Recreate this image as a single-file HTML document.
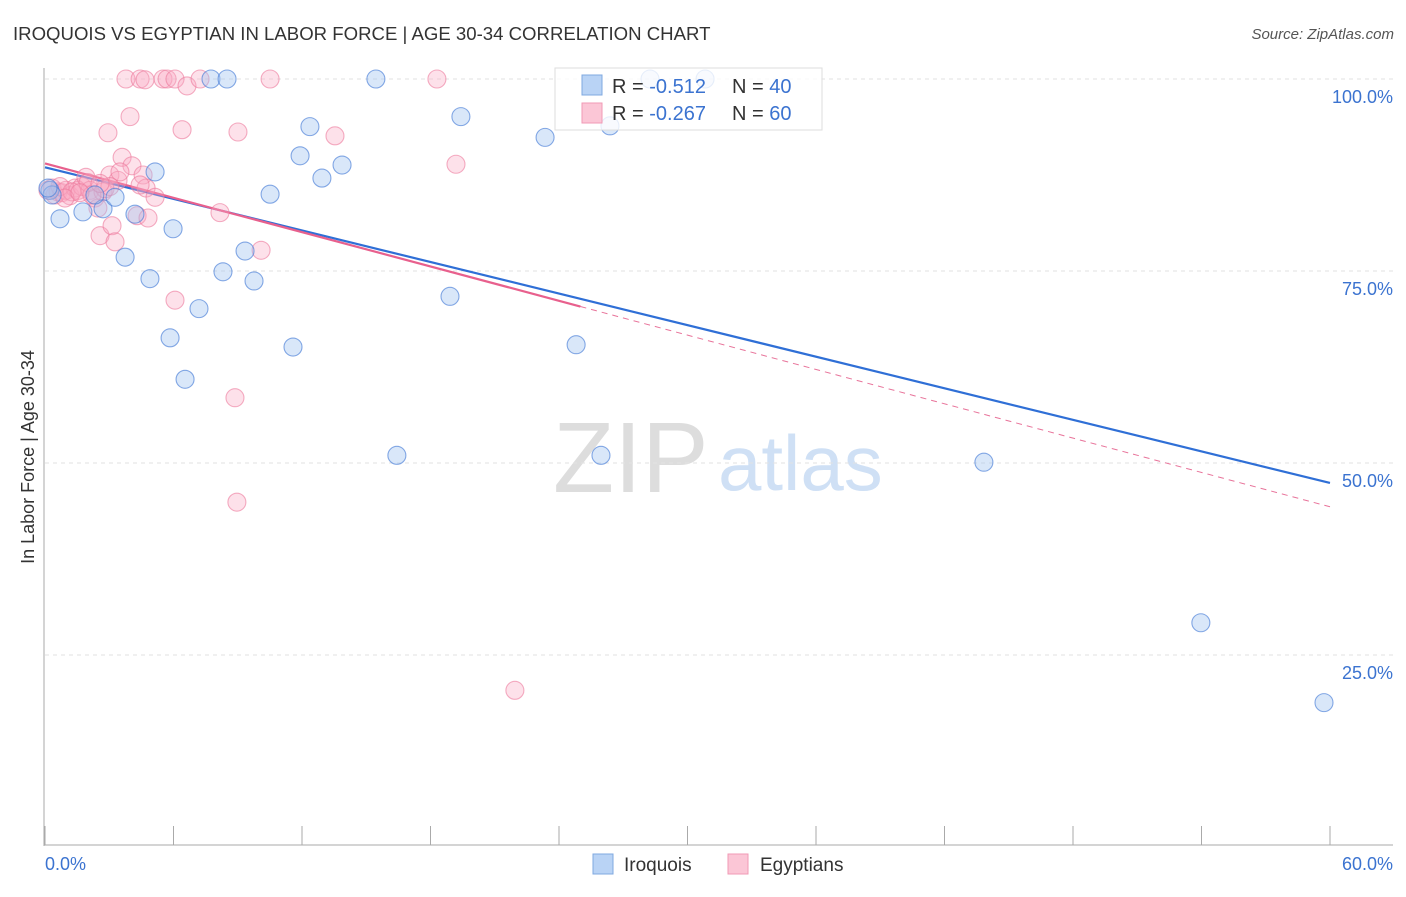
<!DOCTYPE html>
<html><head><meta charset="utf-8"><style>
body{margin:0;background:#fff;font-family:"Liberation Sans",sans-serif}
svg text{font-family:"Liberation Sans",sans-serif}
</style></head><body>
<svg id="chart" width="1406" height="892" xmlns="http://www.w3.org/2000/svg">
<text x="13" y="40" font-size="18.6" fill="#333">IROQUOIS VS EGYPTIAN IN LABOR FORCE | AGE 30-34 CORRELATION CHART</text>
<text x="1394" y="39" font-size="15" fill="#555" font-style="italic" text-anchor="end">Source: ZipAtlas.com</text>
<g>
<text x="553" y="492" font-size="100" fill="#ddd" font-family="Liberation Serif,serif">ZIP</text>
<text x="718" y="490" font-size="78" fill="#cfe0f5">atlas</text>
</g>
<g id="grid"></g><g id="axes"></g><g id="trend"></g><g id="pts"></g>
<text transform="translate(34,457) rotate(-90)" font-size="18" fill="#333" text-anchor="middle">In Labor Force | Age 30-34</text>
<g>
<rect x="555" y="68" width="267" height="62" fill="rgba(255,255,255,0.8)" stroke="#ddd"/>
<rect x="582" y="75" width="20" height="20" fill="#b9d3f5" stroke="#7fa8e0"/>
<rect x="582" y="103" width="20" height="20" fill="#fbc6d6" stroke="#f09ab5"/>
<text x="612" y="93" font-size="20" fill="#333">R = <tspan fill="#3b73d0">-0.512</tspan><tspan x="732">N = </tspan><tspan fill="#3b73d0">40</tspan></text>
<text x="612" y="120" font-size="20" fill="#333">R = <tspan fill="#3b73d0">-0.267</tspan><tspan x="732">N = </tspan><tspan fill="#3b73d0">60</tspan></text>
</g>
<g>
<rect x="593" y="854" width="20" height="20" fill="#b9d3f5" stroke="#7fa8e0"/>
<text x="624" y="871" font-size="19" fill="#333">Iroquois</text>
<rect x="728" y="854" width="20" height="20" fill="#fbc6d6" stroke="#f09ab5"/>
<text x="760" y="871" font-size="19" fill="#333">Egyptians</text>
</g>
</svg>
<script>
const yTicks=[100,75,50,25];
const yTickLabels=["100.0%","75.0%","50.0%","25.0%"];
const xTicks=[0,6,12,18,24,30,36,42,48,54,60];
const iroquoisX=[0.23,0.70,1.77,2.71,3.27,3.74,4.20,4.90,5.14,5.98,6.54,5.84,7.19,7.75,8.50,8.31,9.34,9.76,10.51,11.58,11.91,12.37,12.93,13.87,15.45,16.43,18.91,19.42,23.35,24.80,25.96,26.38,28.25,30.82,43.84,53.97,59.72,0.33,2.33,0.14];
const iroquoisY=[85.5,81.8,82.7,83.1,84.6,76.8,82.4,74.0,87.9,80.5,60.9,66.3,70.1,100,100,74.9,77.6,73.7,85.0,65.1,90.0,93.8,87.1,88.8,100,51.0,71.7,95.1,92.4,65.4,51.0,93.9,100,100,50.1,29.2,18.8,84.9,84.9,85.8];
const egyptX=[0.14,0.33,0.47,0.61,0.79,0.98,1.17,1.40,1.54,1.73,1.91,2.10,2.33,2.47,2.57,2.71,2.94,3.03,3.13,3.27,3.41,3.60,3.78,3.97,4.06,4.30,4.44,4.58,4.72,4.81,5.14,5.51,5.70,6.07,6.07,6.40,6.63,7.24,8.17,8.87,8.96,9.01,10.09,10.51,13.54,18.30,19.19,21.94,2.80,3.50,2.01,0.70,1.26,2.19,0.93,1.63,3.03,4.44,4.67,2.57];
const egyptY=[85.5,85.8,84.9,85.3,85.2,85.5,84.8,85.8,85.5,86.0,87.2,85.5,84.5,83.2,79.6,85.3,93.0,87.5,80.9,78.8,86.8,89.8,100,95.1,88.7,82.2,100,87.5,85.8,81.9,84.6,100,100,100,71.2,93.4,99.1,100,82.6,58.5,44.9,93.1,77.7,100,92.6,100,88.9,20.4,85.7,87.9,86.5,86.0,85.3,84.9,84.5,85.2,86.0,86.2,99.9,86.4];
const iroqTrend=[88.5,47.4];
const egyTrend=[89.0,44.3];
const egySolidEnd=25;
const NS="http://www.w3.org/2000/svg";
const X=v=>45+v/60*1285, Y=v=>847-v*7.68;
function mk(t,a,p){const e=document.createElementNS(NS,t);for(const k in a)e.setAttribute(k,a[k]);p.appendChild(e);return e;}
const grid=document.getElementById('grid'),axes=document.getElementById('axes'),tr=document.getElementById('trend'),pts=document.getElementById('pts');
yTicks.forEach((t,i)=>{
 const l=mk('line',{x1:45,x2:1393,y1:Y(t),y2:Y(t),stroke:'#e2e2e2','stroke-dasharray':'4 4'},grid);
 
 
 const tx=mk('text',{x:1393,y:Y(t)+24,'font-size':18,fill:'#3b73d0','text-anchor':'end'},axes);
 tx.textContent=yTickLabels[i];
 
 
});
const ya=mk('line',{x1:44,x2:44,y1:68,y2:846,stroke:'#aaa'},axes);


const xa=mk('line',{x1:44,x2:1393,y1:845,y2:845,stroke:'#aaa'},axes);


xTicks.forEach(t=>{
 const l=mk('line',{x1:X(t),x2:X(t),y1:826,y2:845,stroke:'#aaa'},axes);
 
 
});
const x0=mk('text',{x:45,y:870,'font-size':18,fill:'#3b73d0'},axes);x0.textContent=xTicks[0].toFixed(1)+'%';


const x1=mk('text',{x:1393,y:870,'font-size':18,fill:'#3b73d0','text-anchor':'end'},axes);x1.textContent=xTicks[xTicks.length-1].toFixed(1)+'%';


function pt(xs,ys,fill,stroke,name){xs.forEach((x,i)=>{
 const c=mk('circle',{cx:X(x),cy:Y(ys[i]),r:9,fill:fill,stroke:stroke,'stroke-width':1.1},pts);
 
 
});}
pt(egyptX,egyptY,'rgba(248,170,195,0.35)','rgba(236,120,155,0.6)','egyptian-point');
pt(iroquoisX,iroquoisY,'rgba(160,196,240,0.4)','rgba(70,125,215,0.65)','iroquois-point');
const ey=x=>egyTrend[0]+(egyTrend[1]-egyTrend[0])*x/60;
const ed=mk('line',{x1:X(egySolidEnd),y1:Y(ey(egySolidEnd)),x2:X(60),y2:Y(egyTrend[1]),stroke:'#e8739a','stroke-width':1,'stroke-dasharray':'6 5'},tr);


const bl=mk('line',{x1:X(0),y1:Y(iroqTrend[0]),x2:X(60),y2:Y(iroqTrend[1]),stroke:'#2f6fd6','stroke-width':2.2},tr);


const es=mk('line',{x1:X(0),y1:Y(egyTrend[0]),x2:X(egySolidEnd),y2:Y(ey(egySolidEnd)),stroke:'#e8608d','stroke-width':2.2},tr);


</script>
</body></html>
